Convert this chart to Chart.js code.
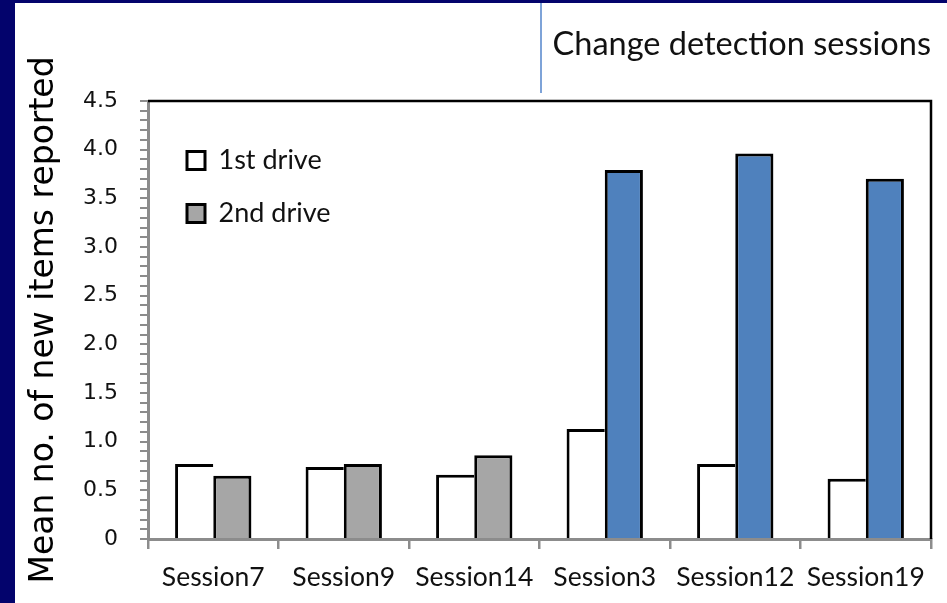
<!DOCTYPE html>
<html>
<head>
<meta charset="utf-8">
<script src="https://cdn.jsdelivr.net/npm/chart.js@4.4.1/dist/chart.umd.min.js"></script>
<style>
  html, body { margin: 0; padding: 0; width: 947px; height: 603px; overflow: hidden; background: #03036c; }
  #frame { position: absolute; left: 15px; top: 3px; width: 932px; height: 600px; background: #ffffff; }
  canvas { display: block; }
</style>
</head>
<body>
<div id="frame"><canvas id="chart" width="932" height="600"></canvas></div>
<script>
// Sessions in the order they are plotted
const sessions = ['Session7', 'Session9', 'Session14', 'Session3', 'Session12', 'Session19'];
// Mean number of new items reported on each drive
const firstDrive  = [0.77, 0.74, 0.66, 1.13, 0.77, 0.62];
const secondDrive = [0.65, 0.77, 0.86, 3.79, 3.96, 3.70];
// Sessions that were change detection sessions
const changeDetection = [false, false, false, true, true, true];
// Labels of the major y ticks (every 0.5)
const yTickLabels = ['0', '0.5', '1.0', '1.5', '2.0', '2.5', '3.0', '3.5', '4.0', '4.5'];

const GRAY = '#a6a6a6';
const BLUE = '#4f81bd';
const AXIS_GRAY = '#8c8c8c';

// Black frame on the top/right of the plot and the divider above the change detection sessions
const framePlugin = {
  id: 'plotFrame',
  afterDraw(chart) {
    const { ctx, chartArea: a, scales: { x } } = chart;
    ctx.save();
    ctx.strokeStyle = '#000000';
    ctx.lineWidth = 2.5;
    ctx.beginPath();
    ctx.moveTo(a.left, a.top);
    ctx.lineTo(a.right, a.top);
    ctx.lineTo(a.right, a.bottom);
    ctx.stroke();
    const xm = (x.getPixelForValue(2) + x.getPixelForValue(3)) / 2 + 1.5;
    ctx.strokeStyle = '#7ea3d8';
    ctx.lineWidth = 2;
    ctx.beginPath();
    ctx.moveTo(xm, 0);
    ctx.lineTo(xm, a.top - 8);
    ctx.stroke();
    ctx.restore();
  }
};

// Place the legend inside the plot area, a little away from its top-left corner
const legendOffset = {
  id: 'legendOffset',
  afterLayout(chart) {
    const lg = chart.legend;
    if (!lg) return;
    const a = chart.chartArea;
    const w = lg.width, h = lg.height;
    lg.left = a.left + 13;
    lg.top = a.top + 20;
    lg.right = lg.left + w;
    lg.bottom = lg.top + h;
  }
};

new Chart(document.getElementById('chart'), {
  type: 'bar',
  data: {
    labels: sessions,
    datasets: [
      {
        label: '1st drive',
        data: firstDrive,
        backgroundColor: '#ffffff',
        borderColor: '#000000',
        borderWidth: { top: 3, left: 3, right: 0, bottom: 0 },
        categoryPercentage: 0.585,
        barPercentage: 1.0
      },
      {
        label: '2nd drive',
        data: secondDrive,
        backgroundColor: sessions.map((s, i) => changeDetection[i] ? BLUE : GRAY),
        borderColor: '#000000',
        borderWidth: 3,
        categoryPercentage: 0.585,
        barPercentage: 1.0
      }
    ]
  },
  options: {
    responsive: false,
    animation: false,
    devicePixelRatio: 1,
    layout: { padding: { left: 0, right: 16, top: 0, bottom: 0 } },
    plugins: {
      tooltip: { enabled: false },
      title: {
        display: true,
        text: 'Change detection sessions',
        align: 'end',
        color: '#111111',
        font: { family: 'Lato', size: 32.5, weight: 'normal' },
        padding: { top: 22, bottom: 37 }
      },
      legend: {
        position: 'chartArea',
        align: 'start',
        labels: {
          color: '#111111',
          font: { family: 'Lato', size: 27 },
          boxWidth: 18,
          boxHeight: 18,
          padding: 26,
          generateLabels(chart) {
            const items = Chart.defaults.plugins.legend.labels.generateLabels(chart);
            items.forEach((it, i) => {
              const bg = chart.data.datasets[i].backgroundColor;
              it.fillStyle = Array.isArray(bg) ? bg[0] : bg;
              it.strokeStyle = '#000000';
              it.lineWidth = 3;
            });
            return items;
          }
        }
      }
    },
    scales: {
      x: {
        offset: true,
        grid: { offset: true, drawOnChartArea: false, drawTicks: true, tickLength: 10, color: AXIS_GRAY, lineWidth: 2.5 },
        border: { color: AXIS_GRAY, width: 3 },
        ticks: { color: '#111111', font: { family: 'Lato', size: 26.5 }, padding: 13, maxRotation: 0, autoSkip: false },
        afterFit(scale) { scale.height = 64; }
      },
      y: {
        min: 0,
        max: 4.5,
        ticks: {
          stepSize: 0.1,
          maxTicksLimit: 100,
          autoSkip: false,
          color: '#111111',
          font: { family: 'DejaVu Sans', size: 22 },
          padding: 22,
          callback(v) {
            const h = v * 2;
            return Math.abs(h - Math.round(h)) < 1e-6 ? yTickLabels[Math.round(h)] : '';
          }
        },
        grid: { drawOnChartArea: false, drawTicks: true, tickLength: 8, color: AXIS_GRAY, lineWidth: 2 },
        border: { color: AXIS_GRAY, width: 3 },
        title: {
          display: true,
          text: 'Mean no. of new items reported',
          color: '#000000',
          font: { family: 'DejaVu Sans', size: 33 },
          padding: { top: 10, bottom: 0 }
        },
        afterFit(scale) { scale.width = 133; }
      }
    }
  },
  plugins: [framePlugin, legendOffset]
});
</script>
</body>
</html>
